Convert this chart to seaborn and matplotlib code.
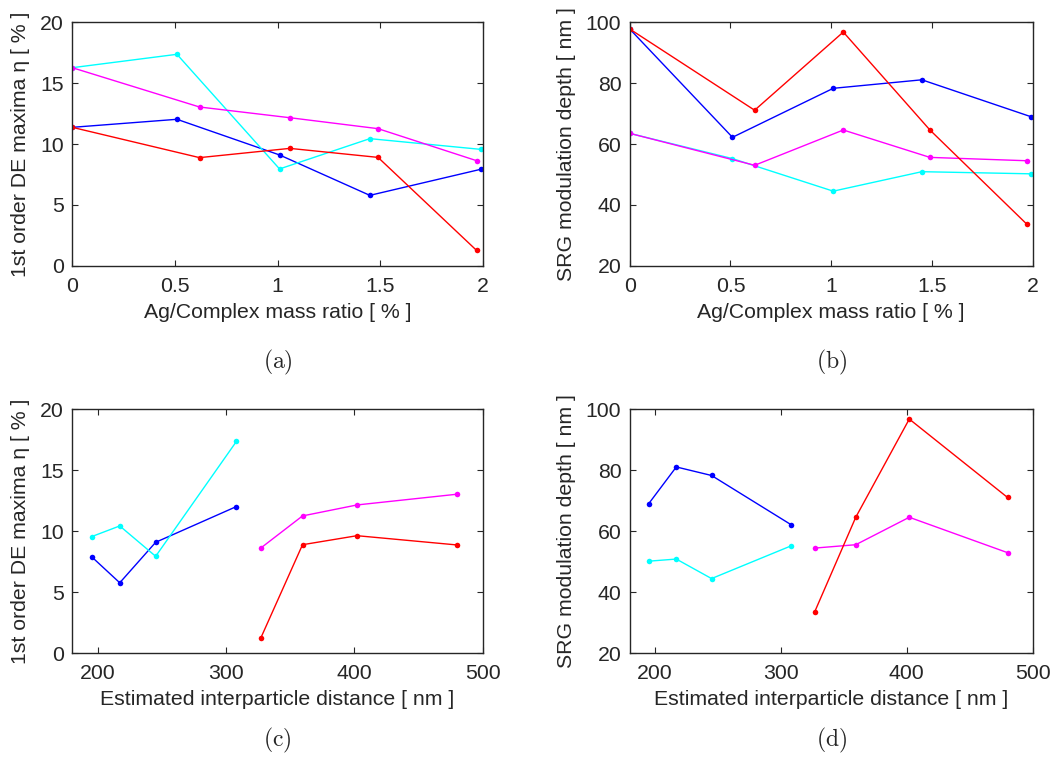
import numpy as np
import pandas as pd
import matplotlib
matplotlib.use("Agg")
import matplotlib.pyplot as plt
import seaborn as sns

# mass ratios (two sample sets measured at slightly different ratios)
ratio_bc = [0, 0.51, 1.01, 1.45, 1.99]   # blue / cyan series
ratio_rm = [0, 0.62, 1.06, 1.49, 1.97]   # red / magenta series

# estimated interparticle distance for non-zero ratios (same order as ratios[1:])
dist_bc = [308, 245, 217, 195]
dist_rm = [480, 402, 359.5, 327]

# 1st order DE maxima [%]
de_blue = [11.37, 12.03, 9.10, 5.78, 7.92]
de_cyan = [16.27, 17.37, 7.95, 10.44, 9.56]
de_magenta = [16.27, 13.04, 12.16, 11.26, 8.63]
de_red = [11.37, 8.88, 9.64, 8.90, 1.26]

# SRG modulation depth [nm]
srg_blue = [97.8, 62.2, 78.3, 81.1, 69.0]
srg_cyan = [63.5, 55.2, 44.5, 50.9, 50.2]
srg_magenta = [63.5, 53.0, 64.6, 55.6, 54.5]
srg_red = [97.8, 71.1, 96.8, 64.6, 33.7]

series = ["blue", "cyan", "magenta", "red"]
colors = {"blue": "#0000ff", "cyan": "#00ffff", "magenta": "#ff00ff", "red": "#ff0000"}
ratios = {"blue": ratio_bc, "cyan": ratio_bc, "magenta": ratio_rm, "red": ratio_rm}
dists = {"blue": dist_bc, "cyan": dist_bc, "magenta": dist_rm, "red": dist_rm}
de = {"blue": de_blue, "cyan": de_cyan, "magenta": de_magenta, "red": de_red}
srg = {"blue": srg_blue, "cyan": srg_cyan, "magenta": srg_magenta, "red": srg_red}

rows = []
for s in series:
    for i in range(5):
        d = dists[s][i - 1] if i > 0 else np.nan
        rows.append({"series": s, "ratio": ratios[s][i], "dist": d,
                     "de": de[s][i], "srg": srg[s][i]})
df = pd.DataFrame(rows)
df_dist = df.dropna(subset=["dist"])

sns.set_style("ticks")
plt.rcParams['font.family'] = ['Liberation Sans', 'DejaVu Sans']
plt.rcParams['mathtext.fontset'] = 'cm'

fig = plt.figure(figsize=(10.58, 7.6), dpi=100)
W, H = 1058, 760
def add_ax(l, r, t, b):
    return fig.add_axes([l / W, 1 - b / H, (r - l) / W, (b - t) / H])

ax_a = add_ax(72.3, 482.7, 22.3, 265.7)
ax_b = add_ax(629.7, 1032.7, 22.3, 265.7)
ax_c = add_ax(72.3, 482.7, 409.3, 653.3)
ax_d = add_ax(629.7, 1032.7, 409.3, 653.3)

panels = [
    (ax_a, df, "ratio", "de", "Ag/Complex mass ratio [ % ]", "1st order DE maxima η [ % ]", "(a)", 97),
    (ax_b, df, "ratio", "srg", "Ag/Complex mass ratio [ % ]", "SRG modulation depth [ nm ]", "(b)", 97),
    (ax_c, df_dist, "dist", "de", "Estimated interparticle distance [ nm ]", "1st order DE maxima η [ % ]", "(c)", 87),
    (ax_d, df_dist, "dist", "srg", "Estimated interparticle distance [ nm ]", "SRG modulation depth [ nm ]", "(d)", 87),
]

for ax, data, xcol, ycol, xlab, ylab, tag, off in panels:
    sns.lineplot(data=data, x=xcol, y=ycol, hue="series", hue_order=series,
                 palette=colors, marker="o", markersize=4, markeredgewidth=0,
                 linewidth=1.0, estimator=None, legend=False, ax=ax)
    ax.set_xlabel(xlab, fontsize=15.3, labelpad=5)
    ax.set_ylabel(ylab, fontsize=15.3, labelpad=7)
    ax.tick_params(axis="both", labelsize=15.3, length=4, width=0.8,
                   top=True, right=True, direction="in")
    ax.tick_params(axis="x", pad=8)
    ax.tick_params(axis="y", pad=6)
    for sp in ax.spines.values():
        sp.set_linewidth(1.0)
        sp.set_visible(True)
    if xcol == "ratio":
        ax.set_xlim(0, 2)
        ax.set_xticks([0, 0.5, 1, 1.5, 2])
        ax.set_xticklabels(["0", "0.5", "1", "1.5", "2"])
    else:
        ax.set_xlim(180, 500)
        ax.set_xticks([200, 300, 400, 500])
    if ycol == "de":
        ax.set_ylim(0, 20)
        ax.set_yticks([0, 5, 10, 15, 20])
    else:
        ax.set_ylim(20, 100)
        ax.set_yticks([20, 40, 60, 80, 100])
    pos = ax.get_position()
    fig.text(pos.x0 + pos.width / 2, pos.y0 - off / H, r"$\mathrm{" + tag + "}$",
             ha="center", va="center", fontsize=17)

fig.savefig("out.png", dpi=100)
